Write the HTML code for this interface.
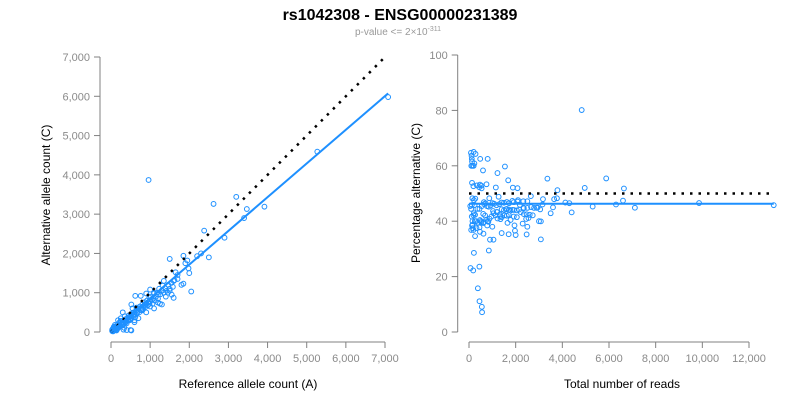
<!DOCTYPE html>
<html><head><meta charset="utf-8"><style>
body{margin:0;background:#fff;}
svg{display:block;font-family:"Liberation Sans",Arial,sans-serif;}
.tk{fill:#8a8a8a;font-size:11px;}
.at{fill:#000;font-size:12px;}
</style></head><body>
<svg id="c" width="800" height="400">
<text x="400" y="20" text-anchor="middle" font-size="16" font-weight="bold">rs1042308 - ENSG00000231389</text>
<text x="398" y="35" text-anchor="middle" font-size="10" fill="#999">p-value &lt;= 2×10<tspan dy="-4" font-size="7">-311</tspan></text>
<g id="left"></g>
<g id="right"></g>
</svg>
<script>
const refCounts=[30,50,60,80,90,100,120,140,150,160,180,200,210,230,250,260,280,300,320,340,350,370,380,400,420,440,460,480,500,520,540,560,580,600,620,640,660,680,700,720,740,760,780,800,820,840,860,880,900,920,940,960,980,1000,1020,1040,1060,1080,1100,1120,1150,1180,1200,1230,1260,1290,1320,1350,1380,1420,1460,1500,1540,1580,1620,
620,760,520,300,500,320,180,100,70,40,50,400,520,140,340,1300,1250,1200,1400,1500,1450,
40,60,70,30,90,110,50,80,120,130,60,45,200,250,150,300,350,90,170,220,
300,250,400,500,600,700,800,900,1000,1100,600,450,350,550,650,280,380,480,580,680,780,880,980,150,110,75,95,65,
960,2620,3200,3470,3920,5270,7080,2380,1500,1850,1950,1980,2200,1800,1850,2050,1600,1650,1550,1700,1900,1100,1350,900,1000,2000,1600,1300,1200,2500,3400,1700,2900,2300];
const altCounts=[25,40,70,50,100,60,90,130,100,180,120,160,230,150,200,280,190,250,210,300,260,240,330,290,350,300,380,320,420,360,470,400,500,450,380,540,480,520,600,500,650,560,620,700,580,660,760,640,720,800,680,760,880,780,900,820,720,850,980,800,900,1000,850,1100,960,1050,1180,1000,1120,1050,1200,1100,1250,1150,1320,
920,920,700,500,50,60,300,180,130,70,15,50,40,40,105,700,720,750,900,1050,1000,
60,90,50,55,60,80,80,120,70,110,35,75,120,280,60,170,300,140,90,250,
200,350,220,330,300,350,550,500,650,600,250,420,400,600,620,170,250,300,450,520,560,700,720,110,100,70,60,55,
3870,3260,3440,3130,3190,4590,5980,2580,1860,1940,1820,1620,1930,1200,1230,1030,870,1520,950,1350,1750,1000,1300,980,1080,1500,1300,1050,950,1900,2900,1450,2400,2000];
const fitSlope=0.858;
const fitPct=46.3;
const xTicksL=[0,1000,2000,3000,4000,5000,6000,7000];
const yTicksL=[0,1000,2000,3000,4000,5000,6000,7000];
const xTicksR=[0,2000,4000,6000,8000,10000,12000];
const yTicksR=[0,20,40,60,80,100];

const NS="http://www.w3.org/2000/svg";
function mk(p,t,a){const e=document.createElementNS(NS,t);for(const k in a)e.setAttribute(k,a[k]);p.appendChild(e);return e;}
const fmt=v=>v.toLocaleString('en-US');
const L=document.getElementById('left'),R=document.getElementById('right');
const xL=v=>111+v*(274/7000), yL=v=>332-v*(275/7000);
const xR=v=>469+v*(280/12000), yR=v=>332-v*(277/100);

function axes(g,xs,ys,xT,yT,axX,axY,xt,yt,tx,ty){
 let e=mk(g,'line',{x1:axY,x2:axY,y1:ys(yT[yT.length-1]),y2:ys(0),stroke:'#808080'});
 
 e=mk(g,'line',{x1:xs(0),x2:xs(xT[xT.length-1]),y1:axX,y2:axX,stroke:'#808080'});
 
 yT.forEach(v=>{mk(g,'line',{x1:axY-6,x2:axY,y1:ys(v),y2:ys(v),stroke:'#808080'});
  const t=mk(g,'text',{x:axY-10,y:ys(v)+4,'text-anchor':'end',class:'tk'});t.textContent=fmt(v);
  });
 xT.forEach(v=>{mk(g,'line',{x1:xs(v),x2:xs(v),y1:axX,y2:axX+6,stroke:'#808080'});
  const t=mk(g,'text',{x:xs(v),y:axX+20,'text-anchor':'middle',class:'tk'});t.textContent=fmt(v);
  });
 let t=mk(g,'text',{x:tx[0],y:tx[1],'text-anchor':'middle',class:'at'});t.textContent=xt;
 
 t=mk(g,'text',{x:0,y:0,'text-anchor':'middle',class:'at',transform:`translate(${ty[0]},${ty[1]}) rotate(-90)`});t.textContent=yt;
 
}
axes(L,xL,yL,xTicksL,yTicksL,342,100,'Reference allele count (A)','Alternative allele count (C)',[248,388],[50,195]);
axes(R,xR,yR,xTicksR,yTicksR,342,457.7,'Total number of reads','Percentage alternative (C)',[622,388],[420,193]);

refCounts.forEach((r,i)=>{const a=altCounts[i];
 let c=mk(L,'circle',{cx:xL(r),cy:yL(a),r:2.4,fill:'none',stroke:'#1E90FF','stroke-width':1});
 
 const tot=r+a;
 c=mk(R,'circle',{cx:xR(tot),cy:yR(a/tot*100),r:2.4,fill:'none',stroke:'#1E90FF','stroke-width':1});
 });

const maxRef=Math.max(...refCounts);
let e=mk(L,'line',{x1:xL(0),y1:yL(0),x2:xL(7000),y2:yL(7000),stroke:'#000','stroke-width':2.5,'stroke-dasharray':'2.5,6'});

e=mk(L,'line',{x1:xL(0),y1:yL(0),x2:xL(maxRef),y2:yL(maxRef*fitSlope),stroke:'#1E90FF','stroke-width':2});

const maxTot=Math.max(...refCounts.map((r,i)=>r+altCounts[i]));
e=mk(R,'line',{x1:xR(0),y1:yR(50),x2:xR(maxTot),y2:yR(50),stroke:'#000','stroke-width':2.5,'stroke-dasharray':'2.5,6'});

e=mk(R,'line',{x1:xR(0),y1:yR(fitPct),x2:xR(maxTot),y2:yR(fitPct),stroke:'#1E90FF','stroke-width':2});

</script>
</body></html>
